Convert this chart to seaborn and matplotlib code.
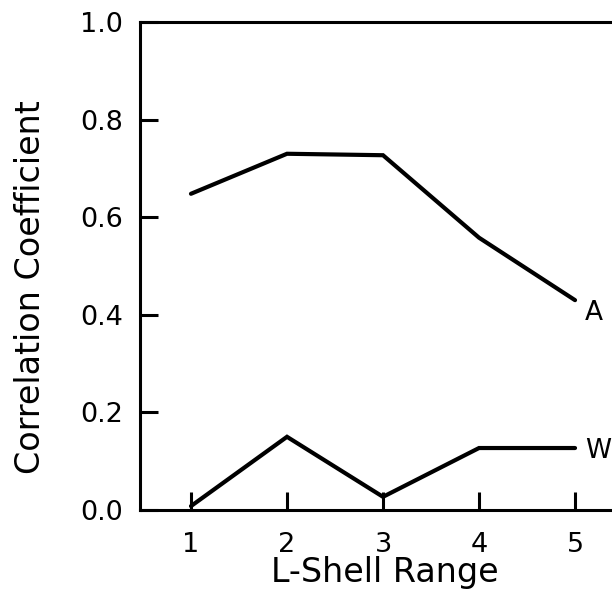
import matplotlib
matplotlib.use("Agg")
import matplotlib.pyplot as plt
import seaborn as sns
import pandas as pd

# Data
l_shell = [1, 2, 3, 4, 5]
series_a = [0.648, 0.730, 0.727, 0.558, 0.430]
series_w = [0.008, 0.150, 0.027, 0.127, 0.127]
series_names = ["A", "W"]
y_ticks = [0.0, 0.2, 0.4, 0.6, 0.8, 1.0]
y_tick_labels = ["0.0", "0.2", "0.4", "0.6", "0.8", "1.0"]

df = pd.DataFrame({
    "L": l_shell * 2,
    "r": series_a + series_w,
    "series": [series_names[0]] * len(l_shell) + [series_names[1]] * len(l_shell),
})

sns.set_theme(style="ticks")
plt.rcParams["font.family"] = ["DejaVu Sans"]
plt.rcParams["axes.labelcolor"] = "black"
plt.rcParams["text.color"] = "black"

fig = plt.figure(figsize=(6.12, 5.94), dpi=100)
ax = fig.add_axes([140 / 612, 84 / 594, 1 - 140 / 612, (510 - 22) / 594])

sns.lineplot(data=df, x="L", y="r", hue="series", palette=["black", "black"],
             linewidth=3.0, legend=False, ax=ax, solid_capstyle="round",
             solid_joinstyle="miter")

ax.set_xlim(0.469, 5.385)
ax.set_ylim(0.0, 1.0)
ax.set_xticks(l_shell)
ax.set_xticklabels([str(v) for v in l_shell])
ax.set_yticks(y_ticks)
ax.set_yticklabels(y_tick_labels)

for side in ["left", "bottom", "top"]:
    ax.spines[side].set_linewidth(2.2)
    ax.spines[side].set_color("black")
ax.spines["right"].set_visible(False)

ax.tick_params(axis="both", direction="in", length=13, width=2.2,
               colors="black", labelsize=19.5)
ax.tick_params(axis="y", pad=12)
ax.tick_params(axis="x", pad=16)

ax.set_xlabel("L-Shell Range", fontsize=24, color="black")
ax.set_ylabel("Correlation Coefficient", fontsize=24, color="black")
ax.xaxis.set_label_coords(0.519, -0.094)
ax.yaxis.set_label_coords(-0.196, 0.457)

# Series labels at the line ends
for name, vals, dy in [(series_names[0], series_a, -9), (series_names[1], series_w, -2)]:
    ax.annotate(name, xy=(l_shell[-1], vals[-1]), xytext=(7, dy),
                textcoords="offset points", ha="left", va="center",
                fontsize=19, color="black", annotation_clip=False)

fig.savefig("out.png", dpi=100)
